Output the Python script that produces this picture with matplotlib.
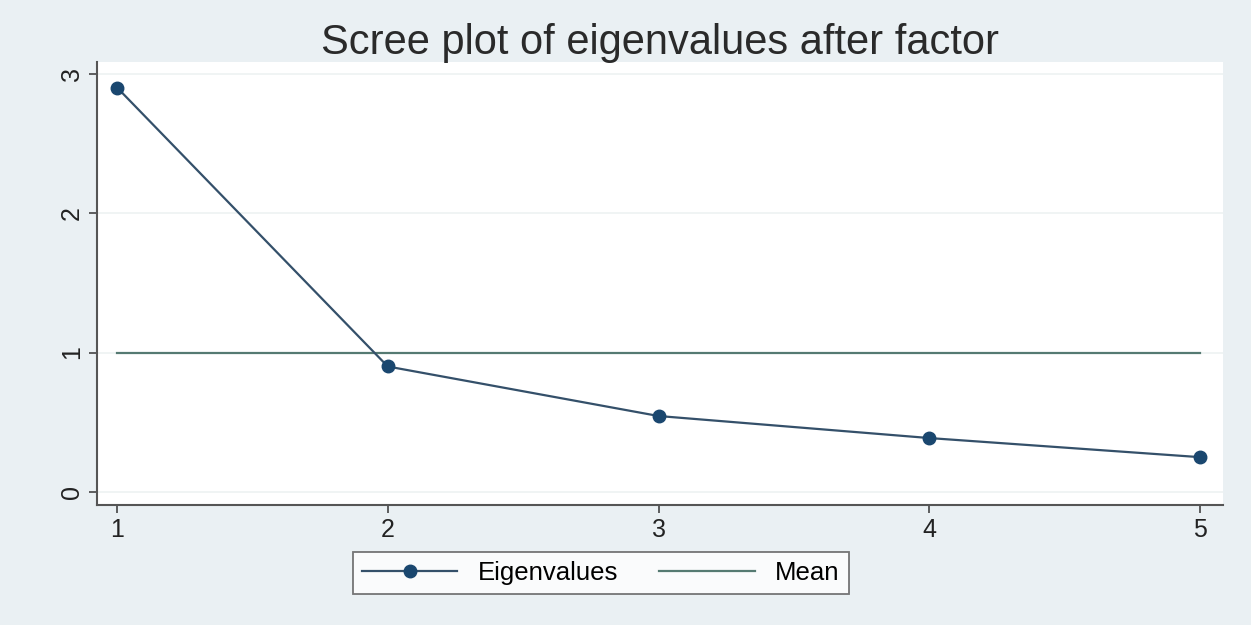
import matplotlib.pyplot as plt

# ---------- data ----------
factors = [1, 2, 3, 4, 5]
eigenvalues = [2.90, 0.90, 0.545, 0.387, 0.25]
mean_value = 1.0
y_ticks = [0, 1, 2, 3]

# ---------- style ----------
plt.rcParams['font.family'] = ['Liberation Sans', 'DejaVu Sans']
bg = '#eaf0f3'
navy = '#1a476f'

fig = plt.figure(figsize=(12.51, 6.25), dpi=100, facecolor=bg)
ax = fig.add_axes([97 / 1251, 1 - 505 / 625, (1223 - 97) / 1251, (505 - 62) / 625])
ax.set_facecolor('white')

ax.plot(factors, eigenvalues, color='#34506a', linewidth=1.6, marker='o',
        markersize=9, markerfacecolor=navy, markeredgecolor=navy,
        label='Eigenvalues', zorder=3)
ax.plot([factors[0], factors[-1]], [mean_value, mean_value], color='#557a72',
        linewidth=1.6, label='Mean', zorder=2)

ax.set_xlim(0.926, 5.085)
ax.set_ylim(-0.093, 3.083)
ax.set_xticks(factors)
ax.set_yticks(y_ticks)
ax.yaxis.grid(True, color='#eef2f2', linewidth=1.2)
ax.set_axisbelow(True)

for side in ['top', 'right']:
    ax.spines[side].set_visible(False)
for side in ['left', 'bottom']:
    ax.spines[side].set_color('#555555')
    ax.spines[side].set_linewidth(1.5)

ax.tick_params(axis='both', colors='#444444', labelcolor='#222222',
               labelsize=18, length=6, width=1.2)
for lbl in ax.get_yticklabels():
    lbl.set_rotation(90)
    lbl.set_va('center')

fig.text(660 / 1251, 1 - 43 / 625, 'Scree plot of eigenvalues after factor',
         ha='center', va='center', fontsize=30, color='#2a2a2a')

leg = ax.legend(loc='center', bbox_to_anchor=(601 / 1251, 1 - 573 / 625),
                bbox_transform=fig.transFigure, ncol=2, fontsize=18.5,
                frameon=True, fancybox=False, handlelength=3.7,
                columnspacing=1.6, borderpad=0.35, handletextpad=0.8)
leg.get_frame().set_edgecolor('#555555')
leg.get_frame().set_linewidth(1.3)

fig.savefig('out.png', dpi=100, facecolor=bg)
